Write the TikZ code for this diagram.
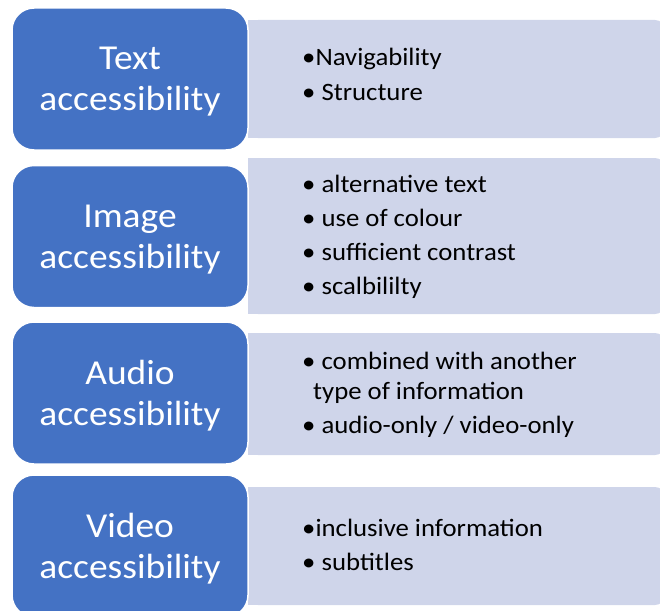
\documentclass[tikz,border=0pt]{standalone}
\usepackage{fontspec}
\setmainfont{Carlito}[FakeStretch=1.07]
\definecolor{boxblue}{HTML}{4472C4}
\definecolor{panelc}{HTML}{CFD5EA}
\tikzset{
  labelbox/.style={fill=boxblue, draw=white, line width=1.5pt, rounded corners=22pt,
    minimum width=236pt, minimum height=142pt, inner sep=0pt, text=white,
    align=center, font=\fontsize{35}{41}\selectfont},
  item/.style={anchor=base west, inner sep=0pt, font=\fontsize{25}{30}\selectfont, text=black},
  panelfill/.style={fill=panelc}
}
\begin{document}
\begin{tikzpicture}[x=1pt,y=-1pt]
\useasboundingbox (0,0) rectangle (660,610);
\begin{scope}
\clip (0,0) rectangle (660,610);
% panels
\foreach \t/\b in {20/138, 158/314, 333/455, 487/605}{
  \fill[panelfill, rounded corners=10pt] (248,\t) rectangle (665,\b);
  \fill[panelfill] (248,\t) rectangle (320,\b);
}
% blue label boxes
\node[labelbox] (t) at (130,79) {};
\node[labelbox] (i) at (130,236.5) {};
\node[labelbox] (a) at (130,393) {};
\node[labelbox] (v) at (130,546) {};
\node[labelbox, draw=none, fill=none] (tl) at (130,82) {Text\\accessibility};
\node[labelbox, draw=none, fill=none] (il) at (130,239.5) {Image\\accessibility};
\node[labelbox, draw=none, fill=none] (al) at (130,396) {Audio\\accessibility};
\node[labelbox, draw=none, fill=none] (vl) at (130,549) {Video\\accessibility};
\end{scope}
% items
\node[item] (t1) at (302,65) {•Navigability};
\node[item] (t2) at (302,100) {• Structure};
\node[item] (i1) at (302,192.5) {• alternative text};
\node[item] (i2) at (302,226) {• use of colour};
\node[item] (i3) at (302,260) {• sufficient contrast};
\node[item] (i4) at (302,294) {• scalbililty};
\node[item] (a1) at (302,369.5) {• combined with another};
\node[item] (a2) at (313,399) {type of information};
\node[item] (a3) at (302,433.5) {• audio-only / video-only};
\node[item] (v1) at (302,536) {•inclusive information};
\node[item] (v2) at (302,570) {• subtitles};
\end{tikzpicture}
\end{document}
